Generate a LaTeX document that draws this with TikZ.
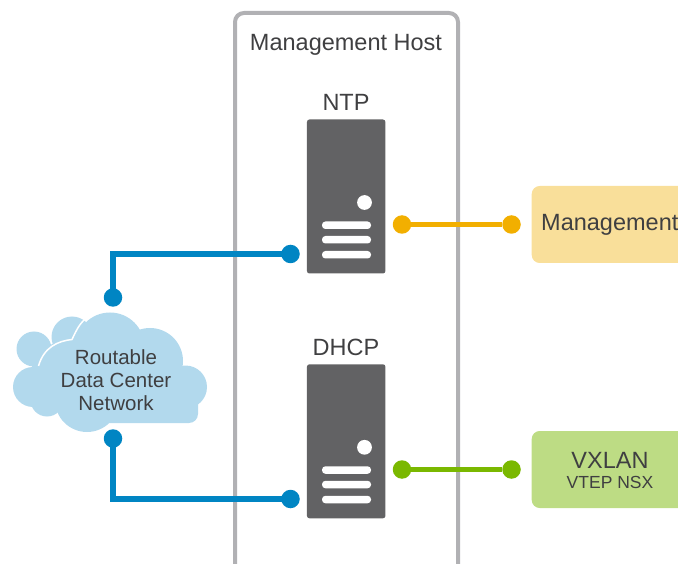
\documentclass[tikz,border=0pt]{standalone}
\usepackage{fontspec}
\setmainfont{Liberation Sans}
\definecolor{srv}{HTML}{626264}
\definecolor{hostline}{HTML}{B1B1B4}
\definecolor{netblue}{HTML}{0085C3}
\definecolor{cloudblue}{HTML}{B2D9ED}
\definecolor{mgold}{HTML}{F2AF00}
\definecolor{mgoldl}{HTML}{F9DF9A}
\definecolor{vgreen}{HTML}{7AB800}
\definecolor{vgreenl}{HTML}{BDDC84}
\definecolor{txt}{HTML}{3F3F41}
\tikzset{
  x=1pt,y=-1pt,
  dot/.style={circle,inner sep=0pt,minimum size=18.5pt,fill=#1},
  link/.style={draw=#1,line width=5.3pt},
  tower/.style={rectangle,rounded corners=2.5pt,fill=srv,minimum width=78.5pt,minimum height=154pt,inner sep=0pt},
  bar/.style={fill=white,rounded corners=3.4pt},
  lbl/.style={text=txt,inner sep=0pt,align=center},
  tag/.style={rounded corners=8pt,inner sep=0pt,minimum width=170pt,minimum height=77pt}
}
\newcommand{\towerdetails}[2]{%
  \fill[white] (#1+57.5,#2+83) circle (7.4);
  \fill[bar] (#1+15,#2+102) rectangle (#1+64,#2+109.5);
  \fill[bar] (#1+15,#2+116.5) rectangle (#1+64,#2+124);
  \fill[bar] (#1+15,#2+131.5) rectangle (#1+64,#2+139);
}
\begin{document}
\begin{tikzpicture}
\useasboundingbox (0,0) rectangle (678,564);
% host frame
\draw[hostline,line width=4pt,rounded corners=9pt] (235,575) -- (235,13) -- (458,13) -- (458,575);
\node[lbl,font=\fontsize{23.5}{26}\selectfont] (hostlabel) at (346,44.5) {Management Host};
% towers
\node[tower] (ntp) at (346.2,196.5) {};
\node[tower] (dhcp) at (346.2,441.3) {};
\towerdetails{307}{119.5}
\towerdetails{307}{364.3}
\node[lbl,font=\fontsize{23.5}{26}\selectfont] (ntplabel) at (346,102.5) {NTP};
\node[lbl,font=\fontsize{23.5}{26}\selectfont] (dhcplabel) at (346,347) {DHCP};
% tags
\begin{scope}
\clip (0,0) rectangle (678,564);
\node[tag,fill=mgoldl,anchor=west] (mgmt) at (531.5,224.5) {};
\node[tag,fill=vgreenl,anchor=west] (vxlan) at (531.5,469.5) {};
\end{scope}
\node[lbl,font=\fontsize{23.5}{26}\selectfont,anchor=west] (mgmtlabel) at (541,224.5) {Management};
\node[lbl,font=\fontsize{23.5}{26}\selectfont] (vxlanlabel) at (610,460.5) {VXLAN};
\node[lbl,font=\fontsize{17.5}{20}\selectfont] (vteplabel) at (610,482) {VTEP NSX};
% cloud
\fill[cloudblue] (34,349) circle (17.5);
\fill[cloudblue] (72,337) circle (20.5);
\fill[cloudblue] (32,345) rectangle (85,372);
\foreach \cx/\cy/\cr in {110/347/34.5,150/361/33,67/370/30,185.5/387/21.5,33/387/20,47/400/16.5,87/400/32}
  \fill[cloudblue] (\cx,\cy) circle (\cr);
\fill[cloudblue] (70,355) rectangle (175,410);
\fill[cloudblue,rounded corners=9pt] (60,385) rectangle (198,423);
\draw[white,line width=1.5pt] (38.5,366) .. controls (44,347) and (58,341) .. (72,339.5) .. controls (76,331) and (80,322) .. (88,317);
\node[lbl,font=\fontsize{20.5}{23}\selectfont] (cloud) at (116,380) {Routable\\Data Center\\Network};
% dots and connectors
\node[dot=netblue] (ntpin) at (290.5,254) {};
\node[dot=netblue] (dhcpin) at (290.5,499) {};
\node[dot=netblue] (cloudtop) at (113,297.5) {};
\node[dot=netblue] (cloudbot) at (113,438.5) {};
\draw[link=netblue] (cloudtop.center) |- (ntpin.center);
\draw[link=netblue] (cloudbot.center) |- (dhcpin.center);
\node[dot=mgold] (ntpout) at (402,224.5) {};
\node[dot=mgold] (mgmtin) at (511.5,224.5) {};
\draw[link=mgold] (ntpout) -- (mgmtin);
\node[dot=vgreen] (dhcpout) at (402,469.5) {};
\node[dot=vgreen] (vxlanin) at (511.5,469.5) {};
\draw[link=vgreen] (dhcpout) -- (vxlanin);
\end{tikzpicture}
\end{document}
